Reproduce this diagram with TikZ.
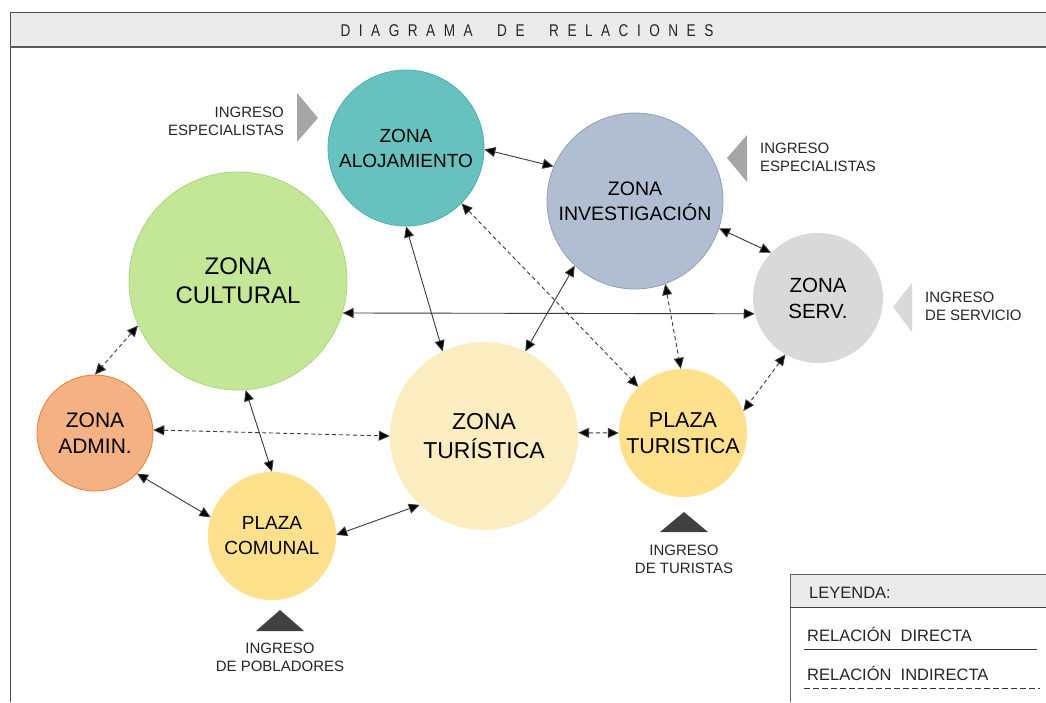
\documentclass[tikz,border=0pt]{standalone}
\usepackage{fontspec}
\setmainfont{Liberation Sans}
\newfontfamily\titlefont[LetterSpace=50,FakeStretch=0.8]{Liberation Sans}
\usetikzlibrary{arrows.meta}
\definecolor{cAloj}{HTML}{66C1BF}
\definecolor{sAloj}{HTML}{4FAFAD}
\definecolor{cInv}{HTML}{B1BDD0}
\definecolor{sInv}{HTML}{8FA0BA}
\definecolor{cCult}{HTML}{C3E797}
\definecolor{sCult}{HTML}{A8D77B}
\definecolor{cServ}{HTML}{D9D9D9}
\definecolor{cAdm}{HTML}{F4B183}
\definecolor{sAdm}{HTML}{ED7D31}
\definecolor{cTur}{HTML}{FCEDC1}
\definecolor{cPlaza}{HTML}{FFE08C}
\definecolor{cHead}{HTML}{EBEBEB}
\definecolor{cTriA}{HTML}{A6A6A6}
\definecolor{cTriB}{HTML}{D9D9D9}
\definecolor{cTriC}{HTML}{404040}
\definecolor{cLine}{HTML}{3A3A3A}
\tikzset{
  zone/.style={circle, inner sep=0pt, align=center, text=black},
  rel/.style={draw=cLine, line width=0.9pt, {Triangle[length=11pt,width=10pt,fill=black]}-{Triangle[length=11pt,width=10pt,fill=black]}},
  relind/.style={rel, dash pattern=on 4pt off 3pt},
  ingtext/.style={font=\fontsize{15}{18}\selectfont, text=black!85, inner sep=0pt},
  legtext/.style={font=\fontsize{16.5}{19}\selectfont, text=black!85, inner sep=0pt, anchor=west},
}
\begin{document}
\begin{tikzpicture}[x=1pt,y=-1pt]
\useasboundingbox (0,0) rectangle (1046,702);
\fill[white] (0,0) rectangle (1046,702);
% title bar
\fill[cHead] (10,12) rectangle (1046,47);
\draw[black!70, line width=0.8pt] (1046,12) -- (10,12) -- (10,702);
\draw[black!65, line width=1.5pt] (10,47) -- (1046,47);
\node[inner sep=0pt, font=\titlefont\fontsize{17}{20}\selectfont, text=black!85] (title) at (527,30.5) {DIAGRAMA\ \ DE\ \ RELACIONES};

% zones
\node[zone, minimum size=156pt, fill=cAloj, draw=sAloj, line width=0.8pt, font=\fontsize{19}{25}\selectfont] (A) at (406,148) {ZONA\\ALOJAMIENTO};
\node[zone, minimum size=176pt, fill=cInv, draw=sInv, line width=0.8pt, font=\fontsize{19.5}{25}\selectfont] (I) at (635,201) {ZONA\\INVESTIGACIÓN};
\node[zone, minimum size=218pt, fill=cCult, draw=sCult, line width=0.8pt, font=\fontsize{24}{29}\selectfont] (C) at (238,281) {ZONA\\CULTURAL};
\node[zone, minimum size=130pt, fill=cServ, font=\fontsize{20.5}{26}\selectfont] (S) at (818,298) {ZONA\\SERV.};
\node[zone, minimum size=116pt, fill=cAdm, draw=sAdm, line width=0.8pt, font=\fontsize{21}{26}\selectfont] (D) at (95,433) {ZONA\\ADMIN.};
\node[zone, minimum size=188pt, fill=cTur, font=\fontsize{23}{28.5}\selectfont] (T) at (484,436) {ZONA\\TURÍSTICA};
\node[zone, minimum size=128pt, fill=cPlaza, font=\fontsize{21.5}{26}\selectfont] (P) at (683,433) {PLAZA\\TURISTICA};
\node[zone, minimum size=128pt, fill=cPlaza, font=\fontsize{19}{25}\selectfont] (M) at (272,536) {PLAZA\\COMUNAL};

% relations
\draw[rel] (A.-1) -- (I.157);
\draw[rel] (A.-90) -- (T.116.6);
\draw[relind] (A.-45.5) -- (P.134.4);
\draw[rel] (I.-18.8) -- (S.136.8);
\draw[relind] (I.-70.3) -- (P.92.6);
\draw[rel] (I.-133.2) -- (T.64);
\draw[rel] (C.-17.6) -- (S.194.3);
\draw[relind] (C.-156.3) -- (D.90);
\draw[rel] (C.-86.3) -- (M.90);
\draw[relind] (D.3) -- (T.180);
\draw[rel] (D.-44.3) -- (M.163.8);
\draw[rel] (M.1.7) -- (T.-133.7);
\draw[relind] (T.2.4) -- (P.180);
\draw[relind] (S.-120) -- (P.20.4);

% entries
\fill[cTriA] (297,93) -- (318,118) -- (297,142) -- cycle;
\node[ingtext, align=right, anchor=east] (e1) at (284,121) {INGRESO\\ESPECIALISTAS};
\fill[cTriA] (747,135) -- (727,158) -- (747,182) -- cycle;
\node[ingtext, align=left, anchor=west] (e2) at (760,157.5) {INGRESO\\ESPECIALISTAS};
\fill[cTriB] (912,283) -- (893,307) -- (912,332) -- cycle;
\node[ingtext, align=left, anchor=west] (e3) at (925,306.5) {INGRESO\\DE SERVICIO};
\fill[cTriC] (280,610) -- (304,631) -- (256,631) -- cycle;
\node[ingtext, align=center] (e4) at (280,657.5) {INGRESO\\DE POBLADORES};
\fill[cTriC] (684,512) -- (708,532) -- (660,532) -- cycle;
\node[ingtext, align=center] (e5) at (684,559) {INGRESO\\DE TURISTAS};

% legend
\fill[cHead] (790,574) rectangle (1046,607);
\draw[black!60, line width=0.8pt] (1046,574) -- (790,574) -- (790,702);
\draw[black!75, line width=1pt] (790,607) -- (1046,607);
\node[legtext] (l0) at (809,593) {LEYENDA:};
\node[legtext] (l1) at (807,634) {RELACIÓN\ \ DIRECTA};
\draw[black!80, line width=0.9pt] (804,649) -- (1037,649);
\node[legtext] (l2) at (807,673) {RELACIÓN\ \ INDIRECTA};
\draw[black!80, line width=0.9pt, dash pattern=on 6pt off 3pt] (804,688) -- (1040,688);
\end{tikzpicture}
\end{document}
